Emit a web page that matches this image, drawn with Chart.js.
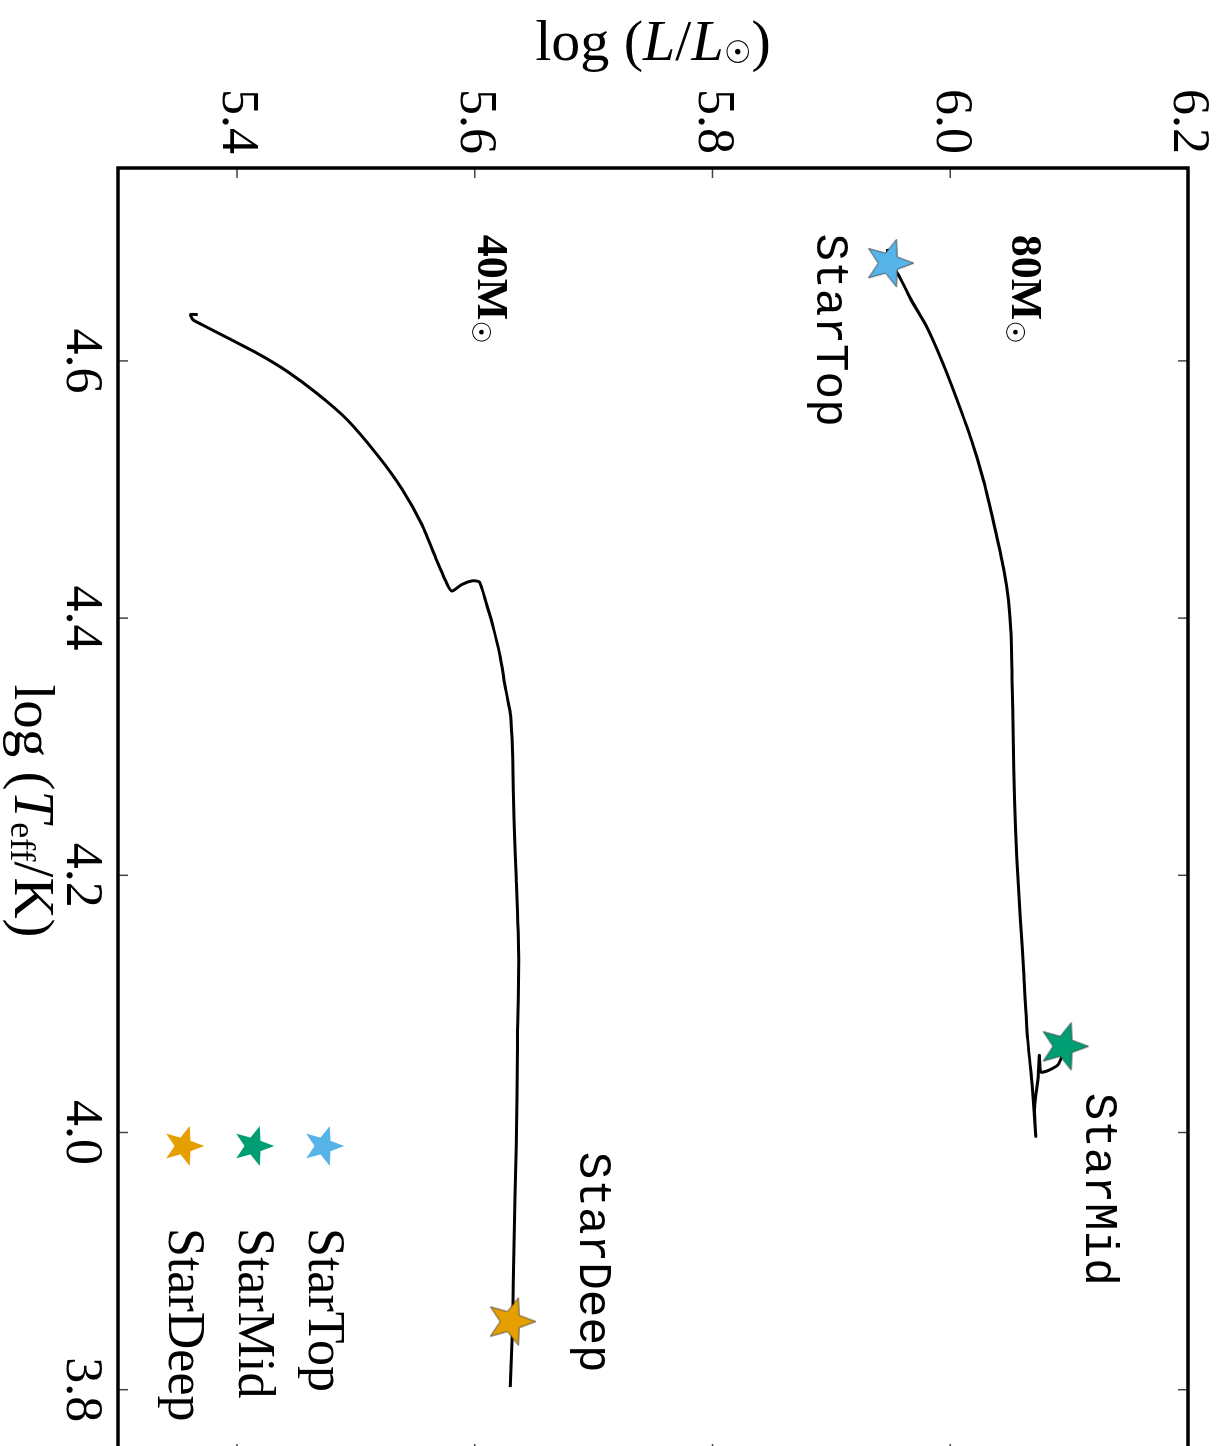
<!DOCTYPE html>
<html>
<head>
<meta charset="utf-8">
<script src="https://cdn.jsdelivr.net/npm/chart.js@4.4.0/dist/chart.umd.min.js"></script>
<style>
  html, body { margin: 0; padding: 0; overflow: hidden; background: #fff; width: 1223px; height: 1446px; }
  /* the figure is drawn upright and then turned a quarter turn clockwise */
  #wrap { position: absolute; left: 0; top: 0; width: 1480px; height: 1223px;
          transform-origin: 0 0; transform: translate(1223px, 0) rotate(90deg); }
</style>
</head>
<body>
<div id="wrap"><canvas id="hr" width="1480" height="1223"></canvas></div>
<script>
// TICKS
const teffTicks = [3.8, 4.0, 4.2, 4.4, 4.6];
const lumTicks = [5.4, 5.6, 5.8, 6.0, 6.2];

// 80 Msun track (log Teff, log L)
const track80Teff = [4.687, 4.676, 4.666, 4.646, 4.627, 4.600, 4.569, 4.538, 4.507, 4.472,
  4.438, 4.414, 4.391, 4.353, 4.306, 4.260, 4.214, 4.167, 4.121, 4.074,
  4.036, 3.997, 4.020, 4.043, 4.060, 4.047, 4.048, 4.053, 4.067];
const track80Lum = [5.947, 5.950, 5.957, 5.968, 5.980, 5.993, 6.006, 6.018, 6.028, 6.037,
  6.045, 6.049, 6.051, 6.052, 6.053, 6.054, 6.056, 6.059, 6.062, 6.065,
  6.069, 6.072, 6.071, 6.074, 6.075, 6.076, 6.082, 6.091, 6.097];

// 40 Msun track
const track40Teff = [4.636, 4.636, 4.632, 4.628, 4.618, 4.606, 4.592, 4.575, 4.554, 4.527,
  4.500, 4.472, 4.445, 4.426, 4.421, 4.426, 4.429, 4.428, 4.414, 4.395,
  4.372, 4.345, 4.326, 4.291, 4.244, 4.198, 4.136, 4.067, 3.989, 3.912,
  3.853, 3.802];
const track40Lum = [5.367, 5.361, 5.363, 5.371, 5.392, 5.417, 5.442, 5.467, 5.493, 5.518,
  5.539, 5.556, 5.568, 5.577, 5.581, 5.589, 5.598, 5.604, 5.609, 5.615,
  5.621, 5.626, 5.630, 5.632, 5.633, 5.635, 5.637, 5.636, 5.635, 5.633,
  5.632, 5.630];

// MODEL STARS
const starNames = ["StarTop", "StarMid", "StarDeep"];
const starTeff = [4.676, 4.067, 3.853];
const starLum = [5.950, 6.097, 5.632];
const starColors = ["#56B4E9", "#009E73", "#E69F00"];

// text labels in the plot (left end of text, baseline)
const noteText = ["80M", "40M", "StarTop", "StarMid", "StarDeep"];
const noteTeff = [4.698, 4.698, 4.699, 4.031, 3.985];
const noteLum = [6.052, 5.603, 5.888, 6.114, 5.689];

const SERIF = "'Liberation Serif', 'DejaVu Serif', serif";
const MONO = "'Liberation Mono', monospace";

function makeStar(color, r, edge) {
  const size = Math.ceil(r * 2 + 4);
  const c = document.createElement("canvas");
  c.width = size;
  c.height = size;
  const g = c.getContext("2d");
  g.translate(size / 2, size / 2 + r * 0.08);
  g.beginPath();
  for (let i = 0; i < 10; i++) {
    const rad = i % 2 === 0 ? r : r * 0.42;
    const a = -Math.PI / 2 + i * Math.PI / 5;
    g.lineTo(rad * Math.cos(a), rad * Math.sin(a));
  }
  g.closePath();
  g.fillStyle = color;
  g.fill();
  if (edge) {
    g.strokeStyle = "#333";
    g.lineWidth = 0.8;
    g.stroke();
  }
  return c;
}

function toPoints(xs, ys) {
  return xs.map((x, i) => ({ x: x, y: ys[i] }));
}

// draw a run of text pieces with their own fonts
function drawParts(ctx, parts, x, y, align) {
  let total = 0;
  parts.forEach(p => {
    ctx.font = p.font;
    p.w = ctx.measureText(p.t).width;
    total += p.w;
  });
  let cx = align === "center" ? x - total / 2 : x;
  parts.forEach(p => {
    ctx.font = p.font;
    ctx.fillText(p.t, cx, y + (p.dy || 0));
    cx += p.w;
  });
}

// FRAME + INWARD TICKS
const framePlugin = {
  id: "frame",
  afterDraw(chart) {
    const ctx = chart.ctx;
    const a = chart.chartArea;
    const xs = chart.scales.x, ys = chart.scales.y;
    ctx.save();
    ctx.strokeStyle = "#444";
    ctx.lineWidth = 1.5;
    ctx.beginPath();
    teffTicks.forEach(v => {
      const px = xs.getPixelForValue(v);
      ctx.moveTo(px, a.bottom);
      ctx.lineTo(px, a.bottom - 10);
      ctx.moveTo(px, a.top);
      ctx.lineTo(px, a.top + 10);
    });
    lumTicks.forEach(v => {
      const py = ys.getPixelForValue(v);
      ctx.moveTo(a.left, py);
      ctx.lineTo(a.left + 10, py);
      ctx.moveTo(a.right, py);
      ctx.lineTo(a.right - 10, py);
    });
    ctx.stroke();
    ctx.strokeStyle = "#000";
    ctx.lineWidth = 3.5;
    ctx.strokeRect(a.left, a.top, a.right - a.left, a.bottom - a.top);
    ctx.restore();
  }
};

// AXIS TITLES, NOTES, LEGEND
const textPlugin = {
  id: "texts",
  afterDraw(chart) {
    const ctx = chart.ctx;
    const a = chart.chartArea;
    const xs = chart.scales.x, ys = chart.scales.y;
    ctx.save();
    ctx.fillStyle = "#000";

    // y title
    ctx.textBaseline = "middle";
    ctx.save();
    ctx.translate(45, (a.top + a.bottom) / 2);
    ctx.rotate(-Math.PI / 2);
    drawParts(ctx, [
      { t: "log (", font: "58px " + SERIF },
      { t: "L", font: "italic 58px " + SERIF },
      { t: "/", font: "58px " + SERIF },
      { t: "L", font: "italic 58px " + SERIF },
      { t: "\u2609", font: "31px 'DejaVu Sans'", dy: 10 },
      { t: ")", font: "58px " + SERIF }
    ], 0, 0, "center");
    ctx.restore();

    // x title
    drawParts(ctx, [
      { t: "log (", font: "57px " + SERIF },
      { t: "T", font: "italic 57px " + SERIF },
      { t: "eff", font: "36px " + SERIF, dy: 10 },
      { t: "/K)", font: "57px " + SERIF }
    ], (a.left + a.right) / 2, 1193, "center");

    // notes
    ctx.textBaseline = "alphabetic";
    noteText.forEach((t, i) => {
      const px = xs.getPixelForValue(noteTeff[i]);
      const py = ys.getPixelForValue(noteLum[i]);
      if (t.startsWith("Star")) {
        ctx.font = "46px " + MONO;
        ctx.fillText(t, px, py);
      } else {
        drawParts(ctx, [
          { t: t, font: "bold 44px " + SERIF },
          { t: "\u2609", font: "26px 'DejaVu Sans'", dy: 6 }
        ], px, py, "left");
      }
    });

    // legend
    ctx.textBaseline = "middle";
    ctx.font = "52px " + SERIF;
    starNames.forEach((name, i) => {
      const ly = a.bottom - 207 + i * 70;
      const img = legendStars[i];
      ctx.drawImage(img, a.right - 308 - img.width / 2, ly - img.height / 2);
      ctx.fillText(name, a.right - 226, ly + 2);
    });
    ctx.restore();
  }
};

const plotStars = starColors.map(c => makeStar(c, 25, true));
const legendStars = starColors.map(c => makeStar(c, 21, false));

const datasets = starNames.map((name, i) => ({
  label: name,
  data: [{ x: starTeff[i], y: starLum[i] }],
  pointStyle: plotStars[i],
  pointRadius: 25,
  order: 0
}));
datasets.push({
  label: "80M",
  data: toPoints(track80Teff, track80Lum),
  showLine: true,
  borderColor: "#000",
  borderWidth: 3,
  pointRadius: 0,
  tension: 0.2,
  order: 1
});
datasets.push({
  label: "40M",
  data: toPoints(track40Teff, track40Lum),
  showLine: true,
  borderColor: "#000",
  borderWidth: 3,
  pointRadius: 0,
  tension: 0.2,
  order: 1
});

new Chart(document.getElementById("hr"), {
  type: "scatter",
  data: { datasets: datasets },
  options: {
    responsive: false,
    animation: false,
    layout: { padding: { top: 35, right: 20, left: 0, bottom: 0 } },
    plugins: { legend: { display: false }, tooltip: { enabled: false } },
    scales: {
      x: {
        type: "linear",
        reverse: true,
        min: 3.75,
        max: 4.75,
        grid: { display: false },
        border: { display: false },
        afterBuildTicks: s => { s.ticks = teffTicks.map(v => ({ value: v })); },
        afterFit: s => { s.height = 118; s.paddingLeft = 0; s.paddingRight = 0; },
        ticks: {
          color: "#000",
          padding: -2,
          autoSkip: false,
          maxRotation: 0,
          font: { family: SERIF, size: 52 },
          callback: v => v.toFixed(1)
        }
      },
      y: {
        type: "linear",
        min: 5.3,
        max: 6.2,
        grid: { display: false },
        border: { display: false },
        afterBuildTicks: s => { s.ticks = lumTicks.map(v => ({ value: v })); },
        afterFit: s => { s.width = 168; s.paddingTop = 0; s.paddingBottom = 0; },
        ticks: {
          color: "#000",
          padding: 6,
          autoSkip: false,
          font: { family: SERIF, size: 52 },
          callback: v => v.toFixed(1)
        }
      }
    }
  },
  plugins: [framePlugin, textPlugin]
});
</script>
</body>
</html>
